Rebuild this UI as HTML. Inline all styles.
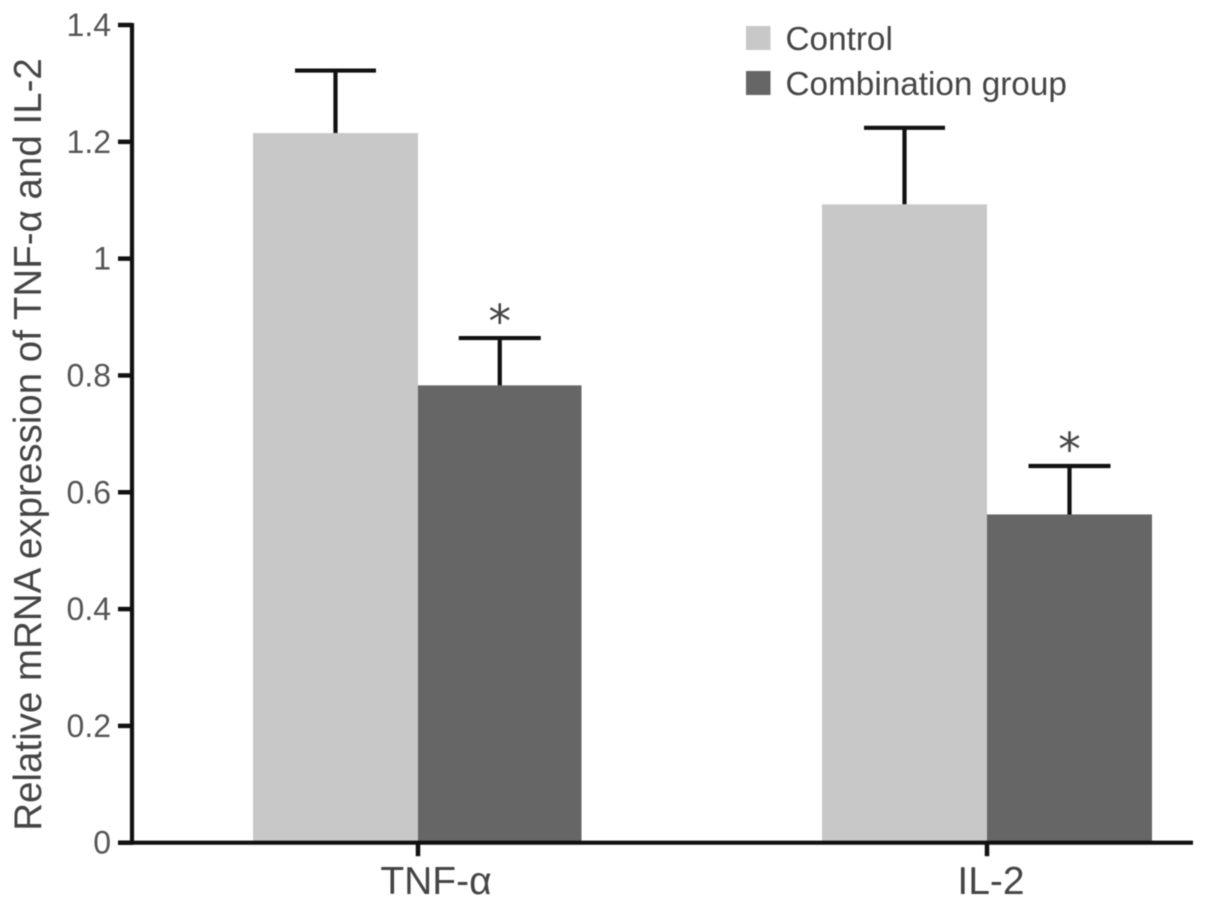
<!DOCTYPE html>
<html>
<head>
<meta charset="utf-8">
<style>
html,body{margin:0;padding:0;background:#fff;}
svg{display:block;filter:blur(0.5px);}
text{font-family:"Liberation Sans",sans-serif;fill:#454545;}
</style>
</head>
<body>
<svg id="chart" width="1205" height="907" viewBox="0 0 1205 907" xmlns="http://www.w3.org/2000/svg"></svg>
<script>
const categories = ["TNF-α", "IL-2"];
const seriesNames = ["Control", "Combination group"];
const controlValues = [1.215, 1.093];
const controlErrors = [0.107, 0.131];
const comboValues = [0.783, 0.562];
const comboErrors = [0.081, 0.083];
const comboSignificant = ["*", "*"];
const yTicks = [0, 0.2, 0.4, 0.6, 0.8, 1, 1.2, 1.4];
const yTickLabels = ["0", "0.2", "0.4", "0.6", "0.8", "1", "1.2", "1.4"];

const svg = document.getElementById('chart');
const NS = 'http://www.w3.org/2000/svg';
const y = v => 842.7 - v * (842.7 - 25) / 1.4;
const groupX = i => [418, 987][i];

function make(tag, attrs, parent) {
  const el = document.createElementNS(NS, tag);
  for (const k in attrs) el.setAttribute(k, attrs[k]);
  (parent || svg).appendChild(el);
  return el;
}

categories.forEach((cat, i) => {
  const cx = groupX(i);
  const leftW = 165;
  const rightW = i === 0 ? 163.5 : 165;

  const b1 = make('rect', {x: cx - leftW, y: y(controlValues[i]), width: leftW, height: y(0) - y(controlValues[i]), fill: '#c8c8c8'});
  
  

  const b2 = make('rect', {x: cx, y: y(comboValues[i]), width: rightW, height: y(0) - y(comboValues[i]), fill: '#666666'});
  
  

  const ex1 = cx - leftW / 2;
  const e1 = make('path', {
    d: `M${ex1} ${y(controlValues[i])}V${y(controlValues[i] + controlErrors[i])}M${ex1 - 40.5} ${y(controlValues[i] + controlErrors[i])}H${ex1 + 40.5}`,
    stroke: '#111', 'stroke-width': 4.2, fill: 'none'
  });
  
  

  const ex2 = cx + rightW / 2;
  const e2 = make('path', {
    d: `M${ex2} ${y(comboValues[i])}V${y(comboValues[i] + comboErrors[i])}M${ex2 - 41} ${y(comboValues[i] + comboErrors[i])}H${ex2 + 41}`,
    stroke: '#111', 'stroke-width': 4.2, fill: 'none'
  });
  
  

  const star = make('text', {x: ex2, y: y(comboValues[i] + comboErrors[i]) - 1, 'text-anchor': 'middle', 'font-size': 45, style: 'font-family:"DejaVu Sans",sans-serif'});
  star.textContent = comboSignificant[i];
  
  

  const tick = make('line', {x1: cx, x2: cx, y1: y(0), y2: y(0) + 13.5, stroke: '#111', 'stroke-width': 4.5});
  
  

  const lab = make('text', {x: i === 0 ? 436 : 991, y: 894, 'text-anchor': 'middle', 'font-size': 39});
  lab.textContent = cat;
  
  
});

yTicks.forEach((t, i) => {
  const tk = make('line', {x1: 118, x2: 132, y1: y(t), y2: y(t), stroke: '#111', 'stroke-width': 4.5});
  
  
  const lb = make('text', {x: 111, y: y(t) + 11, 'text-anchor': 'end', 'font-size': 32, style: 'fill:#555'});
  lb.textContent = yTickLabels[i];
  
  
});

const yAxis = make('line', {x1: 132, x2: 132, y1: y(1.4) - 2, y2: y(0) + 2, stroke: '#111', 'stroke-width': 4.2});



const xAxis = make('line', {x1: 118, x2: 1193, y1: y(0), y2: y(0), stroke: '#111', 'stroke-width': 4.2});



const yTitle = make('text', {transform: 'translate(41 444.5) rotate(-90)', 'text-anchor': 'middle', 'font-size': 38.5});
yTitle.textContent = 'Relative mRNA expression of TNF-α and IL-2';



seriesNames.forEach((name, i) => {
  const ly = [39, 84][i];
  const sw = make('rect', {x: 746, y: ly - 13, width: 24.5, height: 24, fill: ['#c8c8c8', '#666666'][i]});
  
  
  const lt = make('text', {x: 785.5, y: ly + 11, 'font-size': 33.3});
  lt.textContent = name;
  
  
});
</script>
</body>
</html>
